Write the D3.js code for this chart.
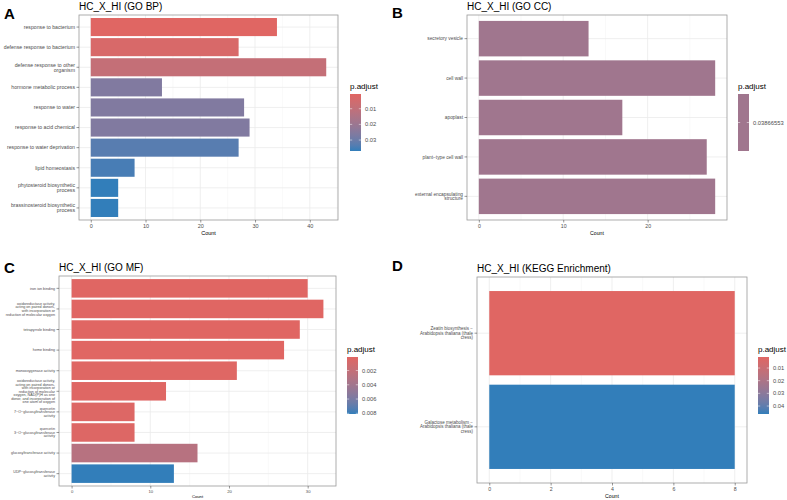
<!DOCTYPE html>
<html>
<head>
<meta charset="utf-8">
<style>
body { margin: 0; background: #fff; }
svg { display: block; font-family: "Liberation Sans", Arial, Helvetica, sans-serif; }
</style>
</head>
<body>
<div id="chart"></div>
<script src="https://cdn.jsdelivr.net/npm/d3@7"></script>
<script>
// ---- data ----
const bpTerms = ["response to bacterium", "defense response to bacterium", "defense response to other\norganism",
  "hormone metabolic process", "response to water", "response to acid chemical", "response to water deprivation",
  "lipid homeostasis", "phytosteroid biosynthetic\nprocess", "brassinosteroid biosynthetic\nprocess"];
const bpCount = [34, 27, 43, 13, 28, 29, 27, 8, 5, 5];
const bpPadj = [0.0006, 0.003, 0.009, 0.026, 0.026, 0.026, 0.033, 0.035, 0.037, 0.037];
const bpXTicks = [0, 10, 20, 30, 40];
const bpLegendTicks = [0.01, 0.02, 0.03];

const ccTerms = ["secretory vesicle", "cell wall", "apoplast", "plant−type cell wall", "external encapsulating\nstructure"];
const ccCount = [13, 28, 17, 27, 28];
const ccPadj = [0.03866553, 0.03866553, 0.03866553, 0.03866553, 0.03866553];
const ccXTicks = [0, 10, 20];
const ccLegendTicks = [0.03866553];

const mfTerms = ["iron ion binding",
  "oxidoreductase activity,\nacting on paired donors,\nwith incorporation or\nreduction of molecular oxygen",
  "tetrapyrrole binding", "heme binding", "monooxygenase activity",
  "oxidoreductase activity,\nacting on paired donors,\nwith incorporation or\nreduction of molecular\noxygen, NAD(P)H as one\ndonor, and incorporation of\none atom of oxygen",
  "quercetin\n7−O−glucosyltransferase\nactivity", "quercetin\n3−O−glucosyltransferase\nactivity",
  "glucosyltransferase activity", "UDP−glucosyltransferase\nactivity"];
const mfCount = [30, 32, 29, 27, 21, 12, 8, 8, 16, 13];
const mfPadj = [0.0001, 0.0001, 0.0001, 0.0001, 0.0002, 0.0002, 0.0003, 0.0003, 0.0028, 0.0081];
const mfXTicks = [0, 10, 20, 30];
const mfLegendTicks = [0.002, 0.004, 0.006, 0.008];

const keggTerms = ["Zeatin biosynthesis −\nArabidopsis thaliana (thale\ncress)", "Galactose metabolism −\nArabidopsis thaliana (thale\ncress)"];
const keggCount = [8, 8];
const keggPadj = [0.0013, 0.0463];
const keggXTicks = [0, 2, 4, 6, 8];
const keggLegendTicks = [0.01, 0.02, 0.03, 0.04];

const low = "#e06663", high = "#327eba";

const svg = d3.select("#chart").append("svg")
  .attr("width", 787).attr("height", 500);

const defs = svg.append("defs");

function panel(o) {
  const max = d3.max(o.counts);
  const x = d3.scaleLinear().domain([-0.05 * max, 1.05 * max]).range([o.x0, o.x1]);
  const y = d3.scaleBand().domain(o.terms).range([o.y0, o.y1]).paddingInner(0.1).paddingOuter(0.15);
  const ext = d3.extent(o.padj);
  const color = d3.scaleLinear().domain(ext).range([low, high]).interpolate(d3.interpolateLab);

  const g = svg.append("g");

  // panel letter and title
  g.append("text").attr("x", o.letterX).attr("y", o.letterY)
    .attr("font-size", 15).attr("font-weight", "bold").text(o.letter);
  g.append("text").attr("x", o.x0).attr("y", o.y0 - 5)
    .attr("font-size", 10).text(o.title);

  // grid
  const minor = d3.pairs(o.xTicks).map(([a, b]) => (a + b) / 2);
  const step = o.xTicks[1] - o.xTicks[0];
  const lastMinor = o.xTicks[o.xTicks.length - 1] + step / 2;
  if (x(lastMinor) < o.x1) minor.push(lastMinor);
  g.selectAll(".minor").data(minor).join("line")
    .attr("x1", d => x(d)).attr("x2", d => x(d))
    .attr("y1", o.y0).attr("y2", o.y1)
    .attr("stroke", "#f2f2f2").attr("stroke-width", 0.5);
  g.selectAll(".major").data(o.xTicks).join("line")
    .attr("x1", d => x(d)).attr("x2", d => x(d))
    .attr("y1", o.y0).attr("y2", o.y1)
    .attr("stroke", "#ebebeb").attr("stroke-width", 0.8);
  g.selectAll(".hgrid").data(o.terms).join("line")
    .attr("x1", o.x0).attr("x2", o.x1)
    .attr("y1", d => y(d) + y.bandwidth() / 2).attr("y2", d => y(d) + y.bandwidth() / 2)
    .attr("stroke", "#ebebeb").attr("stroke-width", 0.8);

  // bars
  g.selectAll(".bar").data(o.terms).join("rect")
    .attr("x", x(0))
    .attr("y", d => y(d))
    .attr("width", (d, i) => x(o.counts[i]) - x(0))
    .attr("height", y.bandwidth())
    .attr("fill", (d, i) => color(o.padj[i]));

  // border
  g.append("rect").attr("x", o.x0).attr("y", o.y0)
    .attr("width", o.x1 - o.x0).attr("height", o.y1 - o.y0)
    .attr("fill", "none").attr("stroke", "#9a9a9a").attr("stroke-width", 0.8);

  // x axis
  const xa = g.append("g").attr("transform", `translate(0,${o.y1})`)
    .call(d3.axisBottom(x).tickValues(o.xTicks).tickSize(2.5).tickPadding(1.5));
  xa.select(".domain").remove();
  xa.selectAll("line").attr("stroke", "#333").attr("stroke-width", 0.5);
  xa.selectAll("text").attr("font-size", o.tickSize).attr("fill", "#4d4d4d")
    .attr("font-family", null);

  g.append("text").attr("x", (o.x0 + o.x1) / 2).attr("y", o.y1 + o.countDy)
    .attr("text-anchor", "middle").attr("font-size", o.tickSize).attr("fill", "#000").text("Count");

  // y axis
  const ya = g.append("g").attr("transform", `translate(${o.x0},0)`)
    .call(d3.axisLeft(y).tickSize(2.5).tickPadding(1.5));
  ya.select(".domain").remove();
  ya.selectAll("line").attr("stroke", "#333").attr("stroke-width", 0.5);
  ya.selectAll("text").attr("font-family", null).attr("font-size", o.labelSize).attr("fill", "#4d4d4d")
    .attr("dy", null)
    .each(function (d) {
      const lines = d.split("\n");
      const lh = o.labelSize * 0.95;
      const t = d3.select(this).text(null);
      lines.forEach((s, k) => {
        t.append("tspan").attr("x", -4)
          .attr("y", (k - (lines.length - 1) / 2) * lh)
          .attr("dy", "0.35em").text(s);
      });
    });

  // legend
  const gid = "grad" + o.letter;
  const grad = defs.append("linearGradient").attr("id", gid)
    .attr("x1", 0).attr("x2", 0).attr("y1", 0).attr("y2", 1);
  d3.range(0, 1.001, 0.1).forEach(t => {
    grad.append("stop").attr("offset", t)
      .attr("stop-color", ext[0] === ext[1] ? color(ext[0]) : d3.interpolateLab(low, high)(t));
  });
  g.append("text").attr("x", o.lx).attr("y", o.ly)
    .attr("font-size", 8).text("p.adjust");
  const barTop = o.ly + 5, barH = 57, barW = 11;
  g.append("rect").attr("x", o.lx).attr("y", barTop)
    .attr("width", barW).attr("height", barH).attr("fill", `url(#${gid})`);
  const ly = ext[0] === ext[1]
    ? () => barTop + barH / 2
    : d3.scaleLinear().domain(ext).range([barTop, barTop + barH]);
  const lt = g.selectAll(".lt").data(o.legendTicks).join("g");
  lt.append("line").attr("x1", o.lx).attr("x2", o.lx + 2.2)
    .attr("y1", d => ly(d)).attr("y2", d => ly(d)).attr("stroke", "#fff").attr("stroke-width", 0.5);
  lt.append("line").attr("x1", o.lx + barW - 2.2).attr("x2", o.lx + barW)
    .attr("y1", d => ly(d)).attr("y2", d => ly(d)).attr("stroke", "#fff").attr("stroke-width", 0.5);
  lt.append("text").attr("x", o.lx + barW + 4).attr("y", d => ly(d)).attr("dy", "0.35em")
    .attr("font-size", 5.8).attr("fill", "#4d4d4d").text(d => d);
}

panel({letter: "A", letterX: 4, letterY: 19, title: "HC_X_HI (GO BP)",
  terms: bpTerms, counts: bpCount, padj: bpPadj, xTicks: bpXTicks, legendTicks: bpLegendTicks,
  x0: 79, x1: 338, y0: 15, y1: 220, labelSize: 5.2, tickSize: 5.5, countDy: 15,
  lx: 350, ly: 89});

panel({letter: "B", letterX: 392, letterY: 18, title: "HC_X_HI (GO CC)",
  terms: ccTerms, counts: ccCount, padj: ccPadj, xTicks: ccXTicks, legendTicks: ccLegendTicks,
  x0: 467, x1: 727, y0: 15, y1: 220, labelSize: 4.8, tickSize: 5.2, countDy: 15,
  lx: 738, ly: 89});

panel({letter: "C", letterX: 4, letterY: 273, title: "HC_X_HI (GO MF)",
  terms: mfTerms, counts: mfCount, padj: mfPadj, xTicks: mfXTicks, legendTicks: mfLegendTicks,
  x0: 59, x1: 336, y0: 276, y1: 486, labelSize: 3.7, tickSize: 4.2, countDy: 12,
  lx: 347, ly: 352});

panel({letter: "D", letterX: 392, letterY: 271, title: "HC_X_HI (KEGG Enrichment)",
  terms: keggTerms, counts: keggCount, padj: keggPadj, xTicks: keggXTicks, legendTicks: keggLegendTicks,
  x0: 477, x1: 747, y0: 277, y1: 483, labelSize: 4.5, tickSize: 5.2, countDy: 15,
  lx: 758, ly: 352});
</script>
</body>
</html>
